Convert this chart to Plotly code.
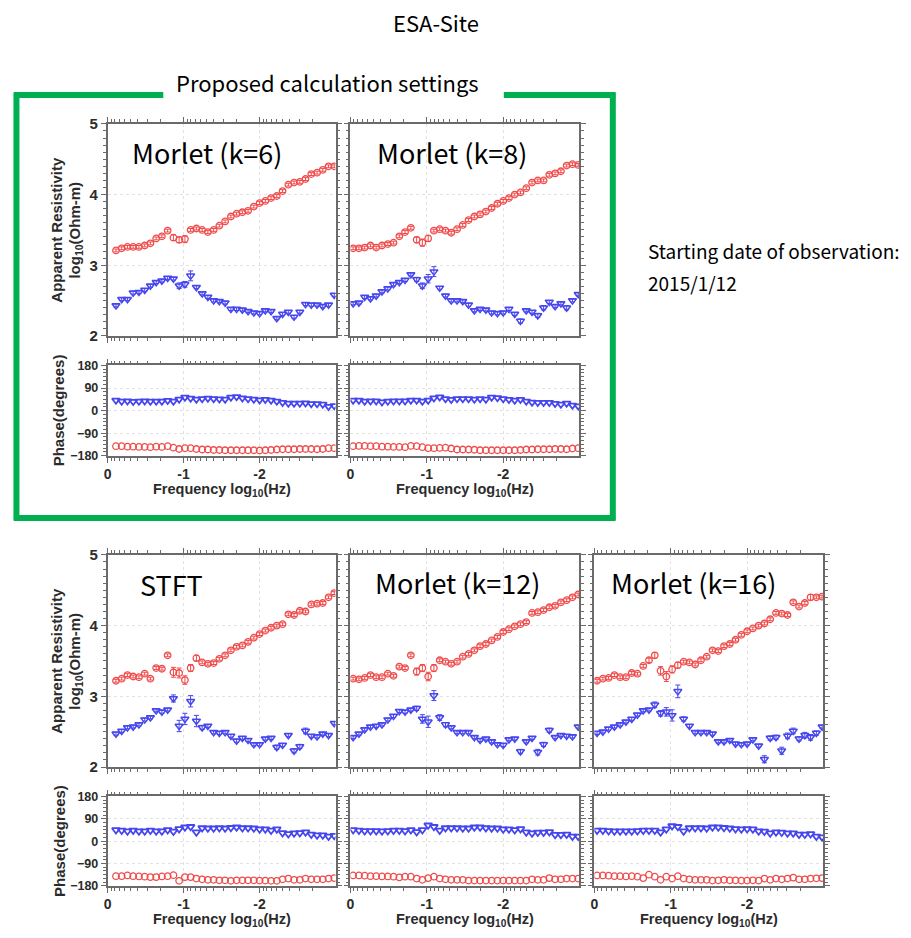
import numpy as np
import plotly.graph_objects as go

W, H = 911, 938

# log10 of frequency (Hz) for each estimate
log_freq = [-0.035, -0.111, -0.186, -0.262, -0.337, -0.413, -0.489, -0.564, -0.640, -0.715,
            -0.791, -0.867, -0.942, -1.018, -1.093, -1.169, -1.245, -1.320, -1.396, -1.471,
            -1.547, -1.623, -1.698, -1.774, -1.849, -1.925, -2.001, -2.076, -2.152, -2.227,
            -2.303, -2.379, -2.454, -2.530, -2.605, -2.681, -2.757, -2.832, -2.908, -2.983]

# ---- Morlet (k=6) ----
k6_rho_xy = [None, 3.21, 3.24, 3.26, 3.26, 3.26, 3.28, 3.31, 3.38, 3.41, 3.49, 3.39, 3.36, 3.37, 3.50, 3.52,
             3.50, 3.47, 3.50, 3.56, 3.62, 3.69, 3.73, 3.75, 3.77, 3.83, 3.88, 3.91, 3.95, 3.98, 4.05,
             4.14, 4.17, 4.18, 4.22, 4.29, 4.31, 4.35, 4.40, 4.40]
k6_rho_xy_err = [.02, .02, .02, .02, .02, .02, .02, .02, .02, .02, .02, .04, .04, .05, .02, .02, .02, .02, .02, .02,
                 .02, .02, .02, .02, .02, .02, .02, .02, .02, .02, .02, .02, .02, .02, .02, .02, .02, .02, .02, .02]
k6_rho_yx = [None, 2.43, 2.52, 2.52, 2.61, 2.62, 2.65, 2.71, 2.76, 2.78, 2.82, 2.81, 2.71, 2.73, 2.85, 2.69,
             2.60, 2.55, 2.50, 2.49, 2.47, 2.38, 2.38, 2.37, 2.35, 2.33, 2.32, 2.36, 2.35, 2.25, 2.31,
             2.34, 2.27, 2.34, 2.45, 2.44, 2.44, 2.42, 2.44, 2.58]
k6_rho_yx_err = [.02, .02, .02, .02, .02, .02, .02, .02, .02, .02, .02, .02, .04, .04, .07, .02, .02, .02, .02, .02,
                 .02, .02, .02, .02, .02, .02, .02, .02, .02, .02, .02, .02, .02, .02, .02, .02, .02, .02, .02, .02]
k6_ph_xy = [None, -142, -142, -144, -144, -145, -145, -146, -144, -145, -142, -148, -153, -150, -150, -153,
            -155, -155, -157, -157, -158, -158, -158, -158, -158, -158, -159, -158, -157, -155, -154,
            -154, -154, -153, -153, -153, -154, -153, -150, -150]
k6_ph_yx = [None, 41, 37, 38, 36, 37, 38, 37, 37, 37, 40, 37, 45, 53, 49, 45, 47, 49, 47, 46, 45,
            53, 55, 50, 47, 45, 42, 44, 41, 37, 32, 29, 29, 29, 30, 27, 27, 25, 16, 19]

# ---- Morlet (k=8) ----
k8_rho_xy = [3.24, 3.24, 3.25, 3.28, 3.25, 3.28, 3.30, 3.32, 3.41, 3.47, 3.53, 3.36, 3.32, 3.38, 3.49, 3.51,
             3.49, 3.46, 3.51, 3.57, 3.64, 3.69, 3.72, 3.76, 3.81, 3.87, 3.91, 3.95, 4.00, 4.03, 4.09,
             4.17, 4.20, 4.20, 4.28, 4.30, 4.33, 4.41, 4.43, 4.42]
k8_rho_xy_err = [.02, .02, .02, .02, .02, .02, .02, .02, .02, .02, .02, .04, .05, .04, .02, .02, .02, .02, .02, .02,
                 .02, .02, .02, .02, .02, .02, .02, .02, .02, .02, .02, .02, .02, .02, .02, .02, .02, .02, .02, .02]
k8_rho_yx = [2.46, 2.47, 2.55, 2.53, 2.57, 2.63, 2.67, 2.73, 2.76, 2.79, 2.87, 2.80, 2.71, 2.81, 2.91, 2.68,
             2.57, 2.50, 2.50, 2.49, 2.44, 2.36, 2.38, 2.37, 2.33, 2.32, 2.33, 2.38, 2.31, 2.21, 2.36,
             2.34, 2.29, 2.40, 2.48, 2.42, 2.46, 2.40, 2.50, 2.59]
k8_rho_yx_err = [.02, .02, .02, .02, .02, .02, .02, .02, .02, .02, .02, .03, .04, .06, .07, .02, .02, .02, .02, .02,
                 .02, .02, .02, .02, .02, .02, .02, .02, .02, .03, .02, .02, .03, .03, .02, .02, .02, .03, .02, .02]
k8_ph_xy = [-142, -141, -141, -142, -142, -144, -144, -145, -145, -146, -141, -142, -146, -150, -150, -149,
            -148, -151, -155, -155, -155, -156, -158, -158, -158, -158, -158, -158, -158, -157, -155,
            -155, -154, -154, -154, -153, -153, -154, -151, -150]
k8_ph_yx = [41, 41, 37, 38, 38, 34, 37, 38, 38, 38, 41, 41, 37, 41, 50, 54, 47, 44, 47, 47,
            47, 45, 47, 45, 53, 51, 47, 44, 41, 44, 37, 33, 32, 32, 32, 28, 25, 29, 21, 18]

# ---- STFT ----
stft_rho_xy = [None, 3.22, 3.25, 3.30, 3.28, 3.27, 3.32, 3.25, 3.40, 3.39, 3.58, 3.34, 3.33, 3.23, 3.40, 3.54,
               3.48, 3.46, 3.47, 3.53, 3.58, 3.65, 3.70, 3.72, 3.77, 3.83, 3.88, 3.93, 3.97, 4.00, 4.02,
               4.16, 4.15, 4.21, 4.20, 4.30, 4.31, 4.32, 4.40, 4.46]
stft_rho_xy_err = [.02, .02, .02, .02, .02, .02, .02, .02, .02, .02, .02, .07, .07, .06, .05, .04, .02, .02, .02, .02,
                   .02, .02, .02, .02, .02, .02, .02, .02, .02, .02, .02, .02, .02, .02, .02, .02, .02, .02, .02, .02]
stft_rho_yx = [None, 2.47, 2.51, 2.56, 2.57, 2.60, 2.67, 2.70, 2.80, 2.78, 2.81, 2.97, 2.58, 2.68, 2.93, 2.65,
               2.56, 2.58, 2.49, 2.48, 2.49, 2.44, 2.37, 2.41, 2.38, 2.32, 2.32, 2.40, 2.41, 2.28, 2.31,
               2.45, 2.23, 2.29, 2.51, 2.44, 2.43, 2.47, 2.45, 2.62]
stft_rho_yx_err = [.02, .02, .02, .02, .02, .02, .02, .02, .02, .02, .02, .05, .08, .08, .08, .08, .03, .02, .02, .02,
                   .02, .02, .02, .02, .02, .02, .02, .02, .02, .03, .02, .02, .03, .03, .04, .02, .02, .02, .02, .02]
stft_ph_xy = [None, -141, -141, -138, -141, -142, -143, -145, -145, -142, -141, -137, -160, -145, -145, -151,
              -154, -156, -156, -158, -158, -160, -158, -158, -158, -158, -159, -159, -160, -160, -154,
              -151, -156, -156, -151, -154, -154, -154, -151, -149]
stft_ph_yx = [None, 45, 43, 40, 43, 40, 40, 43, 40, 40, 45, 39, 49, 56, 58, 36, 53, 52, 52, 53, 52,
              54, 56, 53, 53, 52, 48, 48, 43, 48, 33, 29, 32, 33, 36, 27, 24, 24, 19, 22]

# ---- Morlet (k=12) ----
k12_rho_xy = [3.25, 3.24, 3.26, 3.30, 3.27, 3.27, 3.32, 3.29, 3.42, 3.40, 3.58, 3.35, 3.40, 3.28, 3.40, 3.51,
              3.49, 3.46, 3.49, 3.56, 3.60, 3.65, 3.71, 3.74, 3.79, 3.84, 3.91, 3.95, 3.99, 4.02, 4.05,
              4.18, 4.19, 4.22, 4.26, 4.28, 4.33, 4.36, 4.40, 4.44]
k12_rho_xy_err = [.02, .02, .02, .02, .02, .02, .02, .02, .02, .02, .02, .05, .05, .06, .05, .02, .02, .02, .02, .02,
                  .02, .02, .02, .02, .02, .02, .02, .02, .02, .02, .02, .02, .02, .02, .02, .02, .02, .02, .02, .02]
k12_rho_yx = [2.42, 2.47, 2.53, 2.57, 2.58, 2.60, 2.67, 2.72, 2.79, 2.78, 2.81, 2.83, 2.68, 2.64, 3.01, 2.70,
              2.60, 2.56, 2.49, 2.49, 2.49, 2.42, 2.38, 2.40, 2.36, 2.32, 2.31, 2.39, 2.40, 2.22, 2.36,
              2.41, 2.21, 2.32, 2.52, 2.42, 2.45, 2.44, 2.43, 2.57]
k12_rho_yx_err = [.02, .02, .02, .02, .02, .02, .02, .02, .02, .02, .02, .03, .06, .08, .07, .04, .03, .02, .02, .02,
                  .02, .02, .02, .02, .02, .02, .02, .02, .02, .03, .02, .02, .04, .03, .03, .02, .02, .02, .02, .02]
k12_ph_xy = [-138, -138, -139, -141, -141, -142, -142, -143, -146, -143, -143, -151, -156, -149, -143, -151,
             -154, -156, -156, -156, -159, -159, -159, -159, -159, -159, -159, -159, -159, -159, -159,
             -154, -156, -156, -149, -154, -154, -151, -151, -151]
k12_ph_yx = [45, 43, 41, 41, 41, 40, 41, 43, 43, 41, 45, 37, 45, 64, 58, 43, 53, 53, 53, 52,
             52, 56, 56, 53, 52, 52, 48, 48, 45, 49, 36, 32, 35, 35, 37, 26, 26, 27, 19, 19]

# ---- Morlet (k=16) ----
k16_rho_xy = [3.22, 3.25, 3.26, 3.30, 3.27, 3.27, 3.33, 3.32, 3.43, 3.51, 3.58, 3.36, 3.28, 3.38, 3.44, 3.49,
              3.48, 3.45, 3.51, 3.56, 3.65, 3.64, 3.71, 3.74, 3.80, 3.87, 3.92, 3.96, 4.00, 4.03, 4.09,
              4.18, 4.17, 4.15, 4.33, 4.27, 4.32, 4.40, 4.40, 4.41]
k16_rho_xy_err = [.02, .02, .02, .02, .02, .02, .02, .02, .02, .03, .04, .06, .07, .05, .04, .02, .02, .02, .02, .02,
                  .02, .02, .02, .02, .02, .02, .02, .02, .02, .02, .02, .02, .02, .02, .02, .02, .02, .04, .02, .02]
k16_rho_yx = [2.48, 2.50, 2.54, 2.57, 2.60, 2.64, 2.68, 2.74, 2.80, 2.81, 2.88, 2.76, 2.78, 2.73, 3.07, 2.68,
              2.58, 2.49, 2.49, 2.49, 2.47, 2.36, 2.36, 2.38, 2.33, 2.32, 2.33, 2.39, 2.30, 2.11, 2.41,
              2.42, 2.23, 2.44, 2.51, 2.40, 2.45, 2.42, 2.48, 2.57]
k16_rho_yx_err = [.02, .02, .02, .02, .02, .02, .02, .02, .02, .02, .04, .04, .06, .08, .09, .03, .02, .02, .02, .02,
                  .02, .02, .02, .02, .02, .02, .02, .02, .02, .05, .03, .03, .05, .04, .04, .03, .04, .04, .03, .02]
k16_ph_xy = [-138, -138, -139, -141, -141, -142, -141, -143, -149, -135, -143, -156, -143, -151, -141, -151,
             -154, -156, -156, -156, -159, -158, -156, -158, -158, -159, -159, -158, -159, -151, -156,
             -151, -154, -151, -147, -154, -154, -151, -150, -149]
k16_ph_yx = [43, 43, 41, 40, 40, 40, 40, 41, 43, 43, 43, 36, 48, 61, 58, 40, 53, 53, 53, 52,
             56, 56, 54, 52, 49, 48, 49, 48, 40, 39, 32, 36, 35, 32, 32, 27, 27, 29, 19, 16]

rho_ticks = [2, 3, 4, 5]
phase_ticks = [-180, -90, 0, 90, 180]
freq_ticks = [0, -1, -2]
freq_ticktext = ["0", "-1", "-2"]


def fx(p):
    return p / W


def fy(p):
    return 1 - p / H


# panel frames (pixel boxes) and their data
panels = [
    dict(name="Morlet (k=6)", lab=(204, 157), xs=(104, 333), rho=(117, 333), ph=(363, 455), left=True,
         rxy=k6_rho_xy, rxy_e=k6_rho_xy_err, ryx=k6_rho_yx, ryx_e=k6_rho_yx_err, pxy=k6_ph_xy, pyx=k6_ph_yx),
    dict(name="Morlet (k=8)", lab=(450, 157), xs=(348, 578), rho=(117, 333), ph=(363, 455), left=False,
         rxy=k8_rho_xy, rxy_e=k8_rho_xy_err, ryx=k8_rho_yx, ryx_e=k8_rho_yx_err, pxy=k8_ph_xy, pyx=k8_ph_yx),
    dict(name="STFT", lab=(168, 597), xs=(104, 333), rho=(556, 772), ph=(802, 893), left=True,
         rxy=stft_rho_xy, rxy_e=stft_rho_xy_err, ryx=stft_rho_yx, ryx_e=stft_rho_yx_err, pxy=stft_ph_xy, pyx=stft_ph_yx),
    dict(name="Morlet (k=12)", lab=(455, 595), xs=(348, 578), rho=(556, 772), ph=(802, 893), left=False,
         rxy=k12_rho_xy, rxy_e=k12_rho_xy_err, ryx=k12_rho_yx, ryx_e=k12_rho_yx_err, pxy=k12_ph_xy, pyx=k12_ph_yx),
    dict(name="Morlet (k=16)", lab=(693, 595), xs=(593, 823), rho=(556, 772), ph=(802, 893), left=False,
         rxy=k16_rho_xy, rxy_e=k16_rho_xy_err, ryx=k16_rho_yx, ryx_e=k16_rho_yx_err, pxy=k16_ph_xy, pyx=k16_ph_yx),
]

RED = "#f04a4a"
BLUE = "#4646ee"
AXC = "#6a6a6a"
TXT = "#2b2b2b"
BOLD = dict(family="Liberation Sans, Arial, sans-serif", weight="bold", color=TXT)
JP = "Noto Sans CJK JP"
JP_SHIFT = 0.4  # CJK font boxes sit low; raise the text by this fraction of its size

# log-spaced minor ticks inside each decade of frequency
minor_x = [float(np.log10(k)) - d - 1 for d in range(3) for k in range(2, 10)]

fig = go.Figure()
layout = dict(width=W, height=H, margin=dict(l=0, r=0, t=0, b=0),
              paper_bgcolor="white", plot_bgcolor="white", showlegend=False)
annotations = []


def ax_name(n, kind):
    return f"{kind}axis" if n == 1 else f"{kind}axis{n}"


def ax_ref(n, kind):
    return kind if n == 1 else f"{kind}{n}"


def base_axis():
    return dict(showline=True, linecolor=AXC, linewidth=1.5, mirror="allticks",
                ticks="outside", ticklen=5, tickwidth=1, tickcolor=AXC,
                showgrid=True, gridcolor="#e2e2e2", griddash="dot", gridwidth=1,
                zeroline=False, fixedrange=True)


def jp_text(text, x, y, size, anchor="center"):
    return dict(text=text, x=fx(x), y=fy(y - JP_SHIFT * size), xref="paper", yref="paper",
                showarrow=False, font=dict(family=JP, size=size, color="black"),
                xanchor=anchor, yanchor="middle")


for i, p in enumerate(panels):
    ra, pa = 2 * i + 1, 2 * i + 2
    x0, x1 = p["xs"]
    for n, (top, bot) in ((ra, p["rho"]), (pa, p["ph"])):
        xa = base_axis()
        xa.update(domain=[fx(x0), fx(x1)], anchor=ax_ref(n, "y"), range=[0, -3],
                  tickmode="array", tickvals=freq_ticks, ticktext=freq_ticktext,
                  showticklabels=(n == pa), tickfont=dict(size=14, **BOLD),
                  minor=dict(tickmode="array", tickvals=minor_x, ticks="outside",
                             ticklen=3, tickcolor=AXC, showgrid=False))
        layout[ax_name(n, "x")] = xa
        ya = base_axis()
        ya.update(domain=[fy(bot), fy(top)], anchor=ax_ref(n, "x"),
                  showticklabels=p["left"])
        if n == ra:
            ya.update(range=[2, 5], tickmode="array", tickvals=rho_ticks,
                      tickfont=dict(size=15, **BOLD),
                      minor=dict(dtick=0.1, tick0=2, ticks="outside", ticklen=3,
                                 tickcolor=AXC, showgrid=False))
        else:
            ya.update(range=[-180, 180], tickmode="array", tickvals=phase_ticks,
                      tickfont=dict(size=12.5, **BOLD),
                      minor=dict(dtick=15, tick0=-180, ticks="outside", ticklen=3,
                                 tickcolor=AXC, showgrid=False))
        layout[ax_name(n, "y")] = ya

    xr, yr = ax_ref(ra, "x"), ax_ref(ra, "y")
    xp, yp = ax_ref(pa, "x"), ax_ref(pa, "y")
    err = dict(type="data", thickness=1, width=2.5)
    fig.add_trace(go.Scatter(x=log_freq, y=p["rxy"], xaxis=xr, yaxis=yr, mode="markers",
                             marker=dict(symbol="circle-open", size=6.5, color=RED, line=dict(width=1.3)),
                             error_y=dict(array=p["rxy_e"], color=RED, **err)))
    fig.add_trace(go.Scatter(x=log_freq, y=p["ryx"], xaxis=xr, yaxis=yr, mode="markers",
                             marker=dict(symbol="triangle-down-open", size=7, color=BLUE, line=dict(width=1.5)),
                             error_y=dict(array=p["ryx_e"], color=BLUE, **err)))
    fig.add_trace(go.Scatter(x=log_freq, y=p["pxy"], xaxis=xp, yaxis=yp, mode="markers",
                             marker=dict(symbol="circle-open", size=6.5, color=RED, line=dict(width=1.3))))
    fig.add_trace(go.Scatter(x=log_freq, y=p["pyx"], xaxis=xp, yaxis=yp, mode="markers",
                             marker=dict(symbol="triangle-down-open", size=7, color=BLUE, line=dict(width=1.8))))

    # method label inside the resistivity frame
    annotations.append(jp_text(p["name"], p["lab"][0], p["lab"][1], 27))
    # frequency axis title under the phase frame
    annotations.append(dict(text="Frequency log<sub>10</sub>(Hz)", x=fx((x0 + x1) / 2),
                            y=fy(p["ph"][1] + 35), xref="paper", yref="paper", showarrow=False,
                            font=dict(size=14.5, **BOLD), xanchor="center", yanchor="middle"))
    if p["left"]:
        rc = (p["rho"][0] + p["rho"][1]) / 2
        pc = (p["ph"][0] + p["ph"][1]) / 2
        annotations.append(dict(text="Apparent Resistivity", x=fx(53), y=fy(rc), xref="paper",
                                yref="paper", showarrow=False, textangle=-90,
                                font=dict(size=15, **BOLD), xanchor="center", yanchor="middle"))
        annotations.append(dict(text="log<sub>10</sub>(Ohm-m)", x=fx(72), y=fy(rc), xref="paper",
                                yref="paper", showarrow=False, textangle=-90,
                                font=dict(size=15, **BOLD), xanchor="center", yanchor="middle"))
        annotations.append(dict(text="Phase(degrees)", x=fx(55), y=fy(pc), xref="paper",
                                yref="paper", showarrow=False, textangle=-90,
                                font=dict(size=15, **BOLD), xanchor="center", yanchor="middle"))

annotations += [
    jp_text("ESA-Site", 434, 22, 22),
    jp_text("Proposed calculation settings", 325, 83, 22),
    jp_text("Starting date of observation:", 645, 254, 19, anchor="left"),
    jp_text("2015/1/12", 645, 286, 19, anchor="left"),
]

# green frame around the proposed settings, open at the top for its caption
GREEN = "#00b050"
frame = [((10, 87.5), (160, 87.5)), ((502, 87.5), (614, 87.5)),
         ((12.5, 85), (12.5, 521)), ((611.5, 85), (611.5, 521)), ((10, 518.5), (614, 518.5))]
shapes = [dict(type="line", xref="paper", yref="paper", x0=fx(a[0]), y0=fy(a[1]),
               x1=fx(b[0]), y1=fy(b[1]), line=dict(color=GREEN, width=6)) for a, b in frame]

layout["annotations"] = annotations
layout["shapes"] = shapes
fig.update_layout(**layout)
fig.write_html("out.html")
